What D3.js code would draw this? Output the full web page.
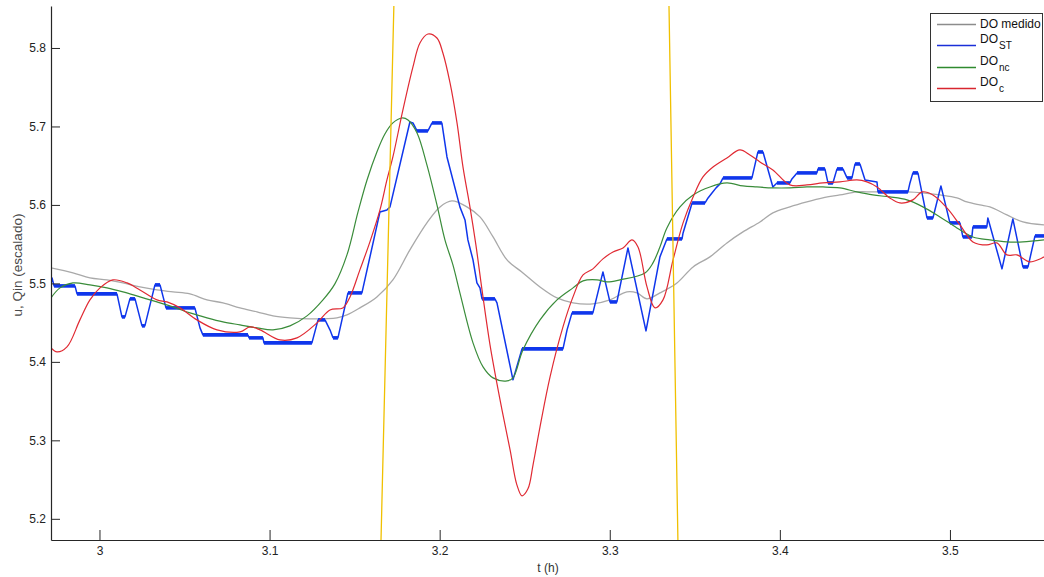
<!DOCTYPE html>
<html>
<head>
<meta charset="utf-8">
<script src="https://cdn.jsdelivr.net/npm/d3@7/dist/d3.min.js"></script>
<style>
  html, body { margin: 0; padding: 0; background: #fff; }
  svg { display: block; font-family: "Liberation Sans", Arial, sans-serif; }
</style>
</head>
<body>
<svg id="chart" width="1044" height="577"></svg>
<script>
// Axis ticks
const tTicks = [3, 3.1, 3.2, 3.3, 3.4, 3.5];
const vTicks = [5.2, 5.3, 5.4, 5.5, 5.6, 5.7, 5.8];

// Measured dissolved oxygen [t (h), value]
const doMedido = [
  [2.9715,5.5197],[2.9844,5.5134],[2.9944,5.5070],[3.0044,5.5045],[3.0138,5.5006],
  [3.0238,5.4955],[3.0338,5.4917],[3.0432,5.4892],[3.0532,5.4866],[3.0632,5.4790],
  [3.0726,5.4752],[3.0826,5.4688],[3.0926,5.4637],[3.1020,5.4586],[3.1120,5.4561],
  [3.1238,5.4548],[3.1396,5.4561],[3.1455,5.4599],[3.1531,5.4688],[3.1631,5.4828],
  [3.1725,5.5045],[3.1825,5.5427],[3.1925,5.5771],[3.2002,5.5975],[3.2072,5.6051],
  [3.2160,5.5975],[3.2237,5.5847],[3.2314,5.5592],[3.2396,5.5299],[3.2490,5.5134],
  [3.2590,5.4955],[3.2690,5.4815],[3.2784,5.4752],[3.2901,5.4739],[3.3001,5.4790],
  [3.3101,5.4892],[3.3160,5.4879],[3.3219,5.4803],[3.3295,5.4879],[3.3395,5.5006],
  [3.3490,5.5210],[3.3589,5.5338],[3.3689,5.5516],[3.3783,5.5656],[3.3883,5.5783],
  [3.3959,5.5898],[3.4059,5.5975],[3.4159,5.6038],[3.4253,5.6089],[3.4353,5.6127],
  [3.4453,5.6166],[3.4547,5.6166],[3.4747,5.6166],[3.4841,5.6153],[3.4941,5.6127],
  [3.5041,5.6089],[3.5100,5.6038],[3.5176,5.6000],[3.5235,5.5975],[3.5335,5.5873],
  [3.5429,5.5783],[3.5553,5.5745]
];

// Quantised controller output DO_ST
const doST = [
  [2.9715,5.5006],[2.9721,5.5070],[2.9733,5.4968],[2.9856,5.4968],[2.9868,5.4866],
  [3.0103,5.4866],[3.0132,5.4573],[3.0150,5.4573],[3.0179,5.4803],[3.0209,5.4803],
  [3.0250,5.4459],[3.0267,5.4459],[3.0326,5.4981],[3.0356,5.4981],[3.0391,5.4688],
  [3.0561,5.4688],[3.0591,5.4433],[3.0608,5.4344],[3.0873,5.4344],[3.0879,5.4306],
  [3.0961,5.4306],[3.0967,5.4242],[3.1249,5.4242],[3.1285,5.4535],[3.1326,5.4535],
  [3.1355,5.4408],[3.1373,5.4306],[3.1402,5.4306],[3.1461,5.4879],[3.1543,5.4879],
  [3.1649,5.5911],[3.1690,5.5936],[3.1708,5.5975],[3.1825,5.7057],[3.1843,5.7045],
  [3.1867,5.6943],[3.1931,5.6943],[3.1955,5.7045],[3.2013,5.7045],[3.2043,5.6611],
  [3.2119,5.5975],[3.2149,5.5809],[3.2166,5.5554],[3.2196,5.5299],[3.2219,5.5006],
  [3.2237,5.4943],[3.2249,5.4803],[3.2325,5.4803],[3.2337,5.4752],[3.2431,5.3771],
  [3.2484,5.4166],[3.2725,5.4166],[3.2749,5.4408],[3.2778,5.4624],[3.2901,5.4624],
  [3.2960,5.5146],[3.3001,5.4764],[3.3042,5.4764],[3.3107,5.5452],[3.3213,5.4395],
  [3.3295,5.5338],[3.3336,5.5567],[3.3425,5.5567],[3.3431,5.5643],[3.3484,5.6025],
  [3.3560,5.6025],[3.3578,5.6089],[3.3601,5.6153],[3.3625,5.6217],[3.3648,5.6268],
  [3.3666,5.6344],[3.3836,5.6344],[3.3871,5.6675],[3.3901,5.6675],[3.3959,5.6229],
  [3.3983,5.6280],[3.4059,5.6280],[3.4071,5.6331],[3.4101,5.6408],[3.4218,5.6408],
  [3.4224,5.6459],[3.4265,5.6459],[3.4283,5.6280],[3.4312,5.6280],[3.4336,5.6459],
  [3.4371,5.6459],[3.4395,5.6344],[3.4424,5.6344],[3.4442,5.6522],[3.4471,5.6522],
  [3.4501,5.6318],[3.4571,5.6293],[3.4577,5.6166],[3.4753,5.6166],[3.4765,5.6280],
  [3.4782,5.6408],[3.4812,5.6408],[3.4865,5.5834],[3.4900,5.5834],[3.4947,5.6242],
  [3.5000,5.5771],[3.5059,5.5771],[3.5076,5.5592],[3.5129,5.5592],[3.5135,5.5720],
  [3.5217,5.5720],[3.5223,5.5834],[3.5306,5.5185],[3.5370,5.5822],[3.5429,5.5210],
  [3.5459,5.5210],[3.5500,5.5605],[3.5553,5.5605]
];

// Non-compensated model DO_nc
const doNC = [
  [2.9715,5.4815],[2.9768,5.4943],[2.9844,5.5006],[2.9944,5.4981],[3.0044,5.4943],
  [3.0138,5.4892],[3.0238,5.4828],[3.0338,5.4764],[3.0432,5.4701],[3.0532,5.4624],
  [3.0632,5.4561],[3.0726,5.4510],[3.0826,5.4471],[3.0926,5.4433],[3.1020,5.4408],
  [3.1120,5.4459],[3.1220,5.4586],[3.1314,5.4790],[3.1384,5.4994],[3.1455,5.5363],
  [3.1520,5.5911],[3.1573,5.6318],[3.1631,5.6675],[3.1678,5.6904],[3.1725,5.7045],
  [3.1778,5.7108],[3.1814,5.7083],[3.1867,5.6917],[3.1925,5.6510],[3.1984,5.6000],
  [3.2031,5.5554],[3.2078,5.5236],[3.2119,5.4879],[3.2196,5.4242],[3.2255,5.3936],
  [3.2314,5.3796],[3.2396,5.3758],[3.2431,5.3796],[3.2490,5.4153],[3.2590,5.4535],
  [3.2690,5.4790],[3.2784,5.4943],[3.2843,5.5032],[3.2925,5.5045],[3.2984,5.5019],
  [3.3060,5.5045],[3.3207,5.5134],[3.3254,5.5261],[3.3295,5.5465],[3.3336,5.5707],
  [3.3413,5.5975],[3.3490,5.6127],[3.3589,5.6229],[3.3689,5.6280],[3.3783,5.6242],
  [3.3865,5.6229],[3.3959,5.6217],[3.4059,5.6217],[3.4159,5.6229],[3.4253,5.6229],
  [3.4353,5.6217],[3.4453,5.6166],[3.4547,5.6127],[3.4647,5.6102],[3.4747,5.6064],
  [3.4841,5.5975],[3.4941,5.5847],[3.5041,5.5707],[3.5135,5.5592],[3.5235,5.5554],
  [3.5335,5.5529],[3.5429,5.5529],[3.5553,5.5554]
];

// Compensated model DO_c
const doC = [
  [2.9715,5.4178],[2.9750,5.4127],[2.9809,5.4191],[2.9885,5.4535],[2.9944,5.4790],
  [3.0003,5.4943],[3.0079,5.5045],[3.0162,5.5006],[3.0238,5.4917],[3.0338,5.4790],
  [3.0397,5.4764],[3.0473,5.4688],[3.0573,5.4535],[3.0691,5.4408],[3.0826,5.4382],
  [3.0885,5.4446],[3.0944,5.4408],[3.1061,5.4280],[3.1161,5.4306],[3.1279,5.4497],
  [3.1355,5.4662],[3.1431,5.4688],[3.1473,5.4828],[3.1531,5.5172],[3.1590,5.5529],
  [3.1649,5.5936],[3.1690,5.6318],[3.1725,5.6611],[3.1784,5.7210],[3.1843,5.7758],
  [3.1884,5.8064],[3.1931,5.8178],[3.1984,5.8127],[3.2019,5.7936],[3.2061,5.7554],
  [3.2102,5.7045],[3.2137,5.6484],[3.2178,5.5975],[3.2213,5.5490],[3.2249,5.4917],
  [3.2296,5.4217],[3.2355,5.3516],[3.2414,5.2879],[3.2454,5.2433],[3.2484,5.2293],
  [3.2519,5.2382],[3.2549,5.2688],[3.2590,5.3172],[3.2649,5.3809],[3.2725,5.4446],
  [3.2784,5.4828],[3.2843,5.5108],[3.2901,5.5185],[3.2960,5.5312],[3.3019,5.5401],
  [3.3078,5.5452],[3.3131,5.5554],[3.3166,5.5465],[3.3219,5.4955],[3.3266,5.4688],
  [3.3313,5.4790],[3.3372,5.5299],[3.3431,5.5771],[3.3490,5.6102],[3.3548,5.6357],
  [3.3607,5.6484],[3.3689,5.6599],[3.3765,5.6701],[3.3824,5.6637],[3.3883,5.6548],
  [3.3959,5.6446],[3.4059,5.6255],[3.4159,5.6255],[3.4253,5.6280],[3.4353,5.6293],
  [3.4453,5.6318],[3.4512,5.6293],[3.4571,5.6229],[3.4647,5.6089],[3.4706,5.6025],
  [3.4782,5.6064],[3.4836,5.6166],[3.4900,5.6127],[3.4982,5.5962],[3.5059,5.5745],
  [3.5135,5.5529],[3.5217,5.5490],[3.5276,5.5516],[3.5335,5.5363],[3.5394,5.5363],
  [3.5470,5.5274],[3.5553,5.5338]
];

// Scaled input u (mostly outside the visible range)
const uSignal = [
  [2.9600,4.4000],[3.1636,5.0000],[3.1747,6.0000],[3.3337,6.0000],[3.3414,5.0000],[3.5700,4.4000]
];

const legendNames = ["DO medido", "DO", "DO", "DO"];
const legendSubs = ["", "ST", "nc", "c"];
const legendColors = ["#8c8c8c", "#1a2fd8", "#2f8a2f", "#d8262f"];

const colors = { medido: "#a9a9a9", st: "#0f36ec", nc: "#3a8c3a", c: "#e02a33", u: "#f0c000" };

const svg = d3.select("#chart");
const plot = { left: 51, right: 1044, top: 6, bottom: 540 };

const x = d3.scaleLinear().domain([2.9715, 3.5553]).range([plot.left, plot.right]);
const y = d3.scaleLinear().domain([5.173, 5.8535]).range([plot.bottom, plot.top]);

svg.append("defs").append("clipPath").attr("id", "plotClip")
  .append("rect")
  .attr("x", plot.left).attr("y", plot.top)
  .attr("width", plot.right - plot.left).attr("height", plot.bottom - plot.top);

const g = svg.append("g").attr("clip-path", "url(#plotClip)");

const line = d3.line().x(d => x(d[0])).y(d => y(d[1]));
const smooth = d3.line().x(d => x(d[0])).y(d => y(d[1])).curve(d3.curveCatmullRom.alpha(0.5));

g.append("path").datum(doMedido).attr("d", smooth)
  .attr("fill", "none").attr("stroke", colors.medido).attr("stroke-width", 1.3);

// DO_ST: thin ramps, heavier plateaus where the quantised value holds
g.append("path").datum(doST).attr("d", line)
  .attr("fill", "none").attr("stroke", colors.st).attr("stroke-width", 1.5)
  .attr("stroke-linejoin", "round");
const plateaus = d3.pairs(doST).filter(([a, b]) => a[1] === b[1]);
g.selectAll("line.plateau").data(plateaus).join("line")
  .attr("class", "plateau")
  .attr("x1", d => x(d[0][0])).attr("x2", d => x(d[1][0]))
  .attr("y1", d => y(d[0][1])).attr("y2", d => y(d[1][1]))
  .attr("stroke", colors.st).attr("stroke-width", 3.6);

g.append("path").datum(doNC).attr("d", smooth)
  .attr("fill", "none").attr("stroke", colors.nc).attr("stroke-width", 1.2);

g.append("path").datum(doC).attr("d", smooth)
  .attr("fill", "none").attr("stroke", colors.c).attr("stroke-width", 1.2);

g.append("path").datum(uSignal).attr("d", line)
  .attr("fill", "none").attr("stroke", colors.u).attr("stroke-width", 1.3);

// Axes: ticks point into the plot, no top/right frame
const axisColor = "#262626";
const xAxis = svg.append("g").attr("transform", `translate(0,${plot.bottom})`)
  .call(d3.axisBottom(x).tickValues(tTicks).tickFormat(d3.format("")).tickSizeInner(-10).tickSizeOuter(0).tickPadding(4));
const yAxis = svg.append("g").attr("transform", `translate(${plot.left},0)`)
  .call(d3.axisLeft(y).tickValues(vTicks).tickFormat(d3.format(".1f")).tickSizeInner(-9).tickSizeOuter(0).tickPadding(5));

[xAxis, yAxis].forEach(a => {
  a.select(".domain").attr("stroke", axisColor).attr("stroke-width", 1.2);
  a.selectAll(".tick line").attr("stroke", axisColor);
  a.selectAll(".tick text").attr("fill", "#222").attr("font-size", 12)
    .attr("font-family", "'Liberation Sans', Arial, sans-serif");
});
xAxis.selectAll(".tick text").attr("dy", "0.9em");

svg.append("text").attr("x", 548).attr("y", 572).attr("text-anchor", "middle")
  .attr("font-size", 12).attr("fill", "#333").text("t (h)");

svg.append("text")
  .attr("transform", `translate(22,265) rotate(-90)`)
  .attr("text-anchor", "middle").attr("font-size", 13.5).attr("fill", "#4a4a4a")
  .text("u, Qin (escalado)");

// Legend
const lg = svg.append("g").attr("transform", "translate(930,13)");
lg.append("rect").attr("x", 0.5).attr("y", 0.5).attr("width", 112).attr("height", 88)
  .attr("fill", "#fff").attr("stroke", "#333").attr("stroke-width", 1);
const rowY = [11, 32, 54, 75];
legendNames.forEach((name, i) => {
  lg.append("line")
    .attr("x1", 7).attr("x2", 46).attr("y1", rowY[i] + 0.5).attr("y2", rowY[i] + 0.5)
    .attr("stroke", legendColors[i]).attr("stroke-width", 1.4);
  const t = lg.append("text").attr("x", 50).attr("y", legendSubs[i] ? rowY[i] - 2 : rowY[i] + 4)
    .attr("font-size", 12).attr("fill", "#111");
  t.append("tspan").text(name);
  if (legendSubs[i]) {
    t.append("tspan").attr("dy", 6).attr("dx", 1).attr("font-size", 10).text(legendSubs[i]);
  }
});
</script>
</body>
</html>
